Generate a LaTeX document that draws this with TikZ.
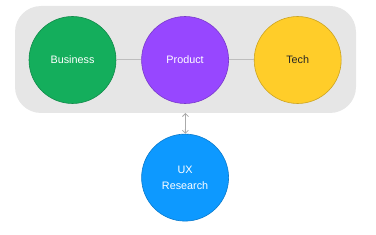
\documentclass[tikz,border=0pt]{standalone}
\usepackage{fontspec}
\setmainfont{Liberation Sans}
\usetikzlibrary{positioning,arrows.meta}

\definecolor{bizgreen}{HTML}{14AE5C}
\definecolor{prodpurple}{HTML}{9747FF}
\definecolor{techyellow}{HTML}{FFCD29}
\definecolor{uxblue}{HTML}{0D99FF}
\definecolor{panelgray}{HTML}{E6E6E6}
\definecolor{linkgray}{HTML}{BDBDBD}

\begin{document}
\begin{tikzpicture}[
    node distance=25pt and 25pt,
    team/.style={draw, circle, align=center, minimum size=87pt, inner sep=0pt, line width=0.6pt, font=\fontsize{10.8}{16}\selectfont},
    panel/.style={fill=panelgray, rounded corners=26pt},
    link/.style={draw=linkgray, line width=1pt},
    arrow/.style={{Straight Barb[length=3pt,width=6pt]}-{Straight Barb[length=3pt,width=6pt]}, draw=linkgray!90!black, line width=0.8pt}
]
\useasboundingbox (0,0) rectangle (376pt,-235pt);

% Fundo cinza da linha de cima
\path[panel] (15pt,-6pt) rectangle (356pt,-113pt);
\coordinate (panel_base) at (185.5pt,-113pt);

% Linha de cima (esquerda -> direita)
\node[team, fill=bizgreen, draw=bizgreen!80!black, text=white] (business) at (72.5pt,-60pt) {Business};
\node[team, fill=prodpurple, draw=prodpurple!80!black, text=white, right=of business] (product) {Product};
\node[team, fill=techyellow, draw=techyellow!80!black, text=black!85, right=of product] (tech) {Tech};

% Abaixo
\node[team, fill=uxblue, draw=uxblue!80!black, text=white, below=30pt of product] (ux) {UX\\Research};

\draw[link] (business) -- (product);
\draw[link] (product) -- (tech);
\draw[arrow] (panel_base) -- (ux);

\end{tikzpicture}
\end{document}
